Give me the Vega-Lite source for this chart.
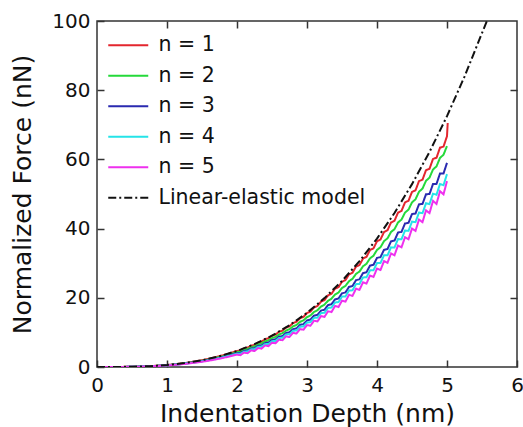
{
"$schema": "https://vega.github.io/schema/vega-lite/v6.json",
"width": 420, "height": 346,
"autosize": {"type": "none"},
"padding": {"left": 97, "top": 21, "right": 6, "bottom": 60},
"background": "white",
"config": {
 "view": {"stroke": "#333", "strokeWidth": 1.5},
 "font": "DejaVu Sans",
 "axis": {"domain": false, "grid": false, "tickColor": "#333", "tickWidth": 1.5, "tickSize": -7, "labelFontSize": 20, "labelColor": "#111", "titleFontSize": 25, "titleFontWeight": "normal", "titleColor": "#111", "labelFont": "DejaVu Sans", "titleFont": "DejaVu Sans"},
 "legend": {"orient": "none", "legendX": 21, "legendY": 14, "padding": 0, "labelFontSize": 20.5, "labelLimit": 400, "labelColor": "#111", "labelFont": "DejaVu Sans", "symbolType": "M-4,0H4", "symbolSize": 100, "symbolStrokeWidth": 2, "symbolOffset": 0, "labelOffset": 20, "rowPadding": 9.5, "title": null}
},
"data": {"values": [
{"x":0,"y":0,"s":"n = 1"},{"x":0.1,"y":0,"s":"n = 1"},{"x":0.2,"y":0.01,"s":"n = 1"},{"x":0.3,"y":0.02,"s":"n = 1"},{"x":0.4,"y":0.04,"s":"n = 1"},{"x":0.5,"y":0.07,"s":"n = 1"},{"x":0.6,"y":0.13,"s":"n = 1"},{"x":0.7,"y":0.2,"s":"n = 1"},{"x":0.8,"y":0.3,"s":"n = 1"},{"x":0.9,"y":0.42,"s":"n = 1"},{"x":1.0,"y":0.58,"s":"n = 1"},{"x":1.1,"y":0.77,"s":"n = 1"},{"x":1.2,"y":1.0,"s":"n = 1"},{"x":1.3,"y":1.27,"s":"n = 1"},{"x":1.4,"y":1.59,"s":"n = 1"},{"x":1.5,"y":1.96,"s":"n = 1"},{"x":1.6,"y":2.38,"s":"n = 1"},{"x":1.7,"y":2.85,"s":"n = 1"},{"x":1.8,"y":3.38,"s":"n = 1"},{"x":1.9,"y":3.98,"s":"n = 1"},
{"x":2.0,"y":4.64,"s":"n = 1"},{"x":2.05,"y":4.85,"s":"n = 1"},{"x":2.1,"y":5.37,"s":"n = 1"},{"x":2.15,"y":5.6,"s":"n = 1"},{"x":2.2,"y":6.17,"s":"n = 1"},{"x":2.25,"y":6.42,"s":"n = 1"},{"x":2.3,"y":7.05,"s":"n = 1"},{"x":2.35,"y":7.32,"s":"n = 1"},{"x":2.4,"y":8.01,"s":"n = 1"},{"x":2.45,"y":8.3,"s":"n = 1"},{"x":2.5,"y":9.05,"s":"n = 1"},{"x":2.55,"y":9.36,"s":"n = 1"},{"x":2.6,"y":10.18,"s":"n = 1"},{"x":2.65,"y":10.51,"s":"n = 1"},{"x":2.7,"y":11.39,"s":"n = 1"},{"x":2.75,"y":11.75,"s":"n = 1"},{"x":2.8,"y":12.7,"s":"n = 1"},{"x":2.85,"y":13.07,"s":"n = 1"},{"x":2.9,"y":14.1,"s":"n = 1"},{"x":2.95,"y":14.49,"s":"n = 1"},
{"x":3.0,"y":15.6,"s":"n = 1"},{"x":3.05,"y":16.01,"s":"n = 1"},{"x":3.1,"y":17.2,"s":"n = 1"},{"x":3.15,"y":17.63,"s":"n = 1"},{"x":3.2,"y":18.9,"s":"n = 1"},{"x":3.25,"y":19.34,"s":"n = 1"},{"x":3.3,"y":20.71,"s":"n = 1"},{"x":3.35,"y":21.17,"s":"n = 1"},{"x":3.4,"y":22.62,"s":"n = 1"},{"x":3.45,"y":23.09,"s":"n = 1"},{"x":3.5,"y":24.63,"s":"n = 1"},{"x":3.55,"y":25.12,"s":"n = 1"},{"x":3.6,"y":26.76,"s":"n = 1"},{"x":3.65,"y":27.25,"s":"n = 1"},{"x":3.7,"y":28.99,"s":"n = 1"},{"x":3.75,"y":29.5,"s":"n = 1"},{"x":3.8,"y":31.33,"s":"n = 1"},{"x":3.85,"y":31.85,"s":"n = 1"},{"x":3.9,"y":33.78,"s":"n = 1"},{"x":3.95,"y":34.3,"s":"n = 1"},
{"x":4.0,"y":36.34,"s":"n = 1"},{"x":4.05,"y":36.86,"s":"n = 1"},{"x":4.1,"y":39.0,"s":"n = 1"},{"x":4.15,"y":39.51,"s":"n = 1"},{"x":4.2,"y":41.76,"s":"n = 1"},{"x":4.25,"y":42.27,"s":"n = 1"},{"x":4.3,"y":44.62,"s":"n = 1"},{"x":4.35,"y":45.11,"s":"n = 1"},{"x":4.4,"y":47.57,"s":"n = 1"},{"x":4.45,"y":48.05,"s":"n = 1"},{"x":4.5,"y":50.61,"s":"n = 1"},{"x":4.55,"y":51.06,"s":"n = 1"},{"x":4.6,"y":53.72,"s":"n = 1"},{"x":4.65,"y":54.14,"s":"n = 1"},{"x":4.7,"y":56.89,"s":"n = 1"},{"x":4.75,"y":57.28,"s":"n = 1"},{"x":4.8,"y":60.13,"s":"n = 1"},{"x":4.85,"y":60.47,"s":"n = 1"},{"x":4.9,"y":63.4,"s":"n = 1"},{"x":4.95,"y":63.7,"s":"n = 1"},{"x":5.0,"y":66.7,"s":"n = 1"},{"x":5.01,"y":70.5,"s":"n = 1"},

{"x":0,"y":0,"s":"n = 2"},{"x":0.1,"y":0,"s":"n = 2"},{"x":0.2,"y":0,"s":"n = 2"},{"x":0.3,"y":0.01,"s":"n = 2"},{"x":0.4,"y":0.03,"s":"n = 2"},{"x":0.5,"y":0.07,"s":"n = 2"},{"x":0.6,"y":0.12,"s":"n = 2"},{"x":0.7,"y":0.18,"s":"n = 2"},{"x":0.8,"y":0.27,"s":"n = 2"},{"x":0.9,"y":0.39,"s":"n = 2"},{"x":1.0,"y":0.54,"s":"n = 2"},{"x":1.1,"y":0.71,"s":"n = 2"},{"x":1.2,"y":0.92,"s":"n = 2"},{"x":1.3,"y":1.18,"s":"n = 2"},{"x":1.4,"y":1.47,"s":"n = 2"},{"x":1.5,"y":1.81,"s":"n = 2"},{"x":1.6,"y":2.19,"s":"n = 2"},{"x":1.7,"y":2.63,"s":"n = 2"},{"x":1.8,"y":3.12,"s":"n = 2"},{"x":1.9,"y":3.67,"s":"n = 2"},
{"x":2.0,"y":4.28,"s":"n = 2"},{"x":2.05,"y":4.5,"s":"n = 2"},{"x":2.1,"y":4.95,"s":"n = 2"},{"x":2.15,"y":5.2,"s":"n = 2"},{"x":2.2,"y":5.7,"s":"n = 2"},{"x":2.25,"y":5.97,"s":"n = 2"},{"x":2.3,"y":6.51,"s":"n = 2"},{"x":2.35,"y":6.81,"s":"n = 2"},{"x":2.4,"y":7.39,"s":"n = 2"},{"x":2.45,"y":7.72,"s":"n = 2"},{"x":2.5,"y":8.35,"s":"n = 2"},{"x":2.55,"y":8.71,"s":"n = 2"},{"x":2.6,"y":9.39,"s":"n = 2"},{"x":2.65,"y":9.78,"s":"n = 2"},{"x":2.7,"y":10.52,"s":"n = 2"},{"x":2.75,"y":10.93,"s":"n = 2"},{"x":2.8,"y":11.73,"s":"n = 2"},{"x":2.85,"y":12.17,"s":"n = 2"},{"x":2.9,"y":13.03,"s":"n = 2"},{"x":2.95,"y":13.49,"s":"n = 2"},
{"x":3.0,"y":14.41,"s":"n = 2"},{"x":3.05,"y":14.91,"s":"n = 2"},{"x":3.1,"y":15.9,"s":"n = 2"},{"x":3.15,"y":16.43,"s":"n = 2"},{"x":3.2,"y":17.48,"s":"n = 2"},{"x":3.25,"y":18.03,"s":"n = 2"},{"x":3.3,"y":19.15,"s":"n = 2"},{"x":3.35,"y":19.74,"s":"n = 2"},{"x":3.4,"y":20.93,"s":"n = 2"},{"x":3.45,"y":21.55,"s":"n = 2"},{"x":3.5,"y":22.82,"s":"n = 2"},{"x":3.55,"y":23.46,"s":"n = 2"},{"x":3.6,"y":24.8,"s":"n = 2"},{"x":3.65,"y":25.48,"s":"n = 2"},{"x":3.7,"y":26.9,"s":"n = 2"},{"x":3.75,"y":27.6,"s":"n = 2"},{"x":3.8,"y":29.1,"s":"n = 2"},{"x":3.85,"y":29.83,"s":"n = 2"},{"x":3.9,"y":31.41,"s":"n = 2"},{"x":3.95,"y":32.17,"s":"n = 2"},
{"x":4.0,"y":33.84,"s":"n = 2"},{"x":4.05,"y":34.62,"s":"n = 2"},{"x":4.1,"y":36.37,"s":"n = 2"},{"x":4.15,"y":37.18,"s":"n = 2"},{"x":4.2,"y":39.01,"s":"n = 2"},{"x":4.25,"y":39.84,"s":"n = 2"},{"x":4.3,"y":41.76,"s":"n = 2"},{"x":4.35,"y":42.61,"s":"n = 2"},{"x":4.4,"y":44.62,"s":"n = 2"},{"x":4.45,"y":45.49,"s":"n = 2"},{"x":4.5,"y":47.59,"s":"n = 2"},{"x":4.55,"y":48.47,"s":"n = 2"},{"x":4.6,"y":50.65,"s":"n = 2"},{"x":4.65,"y":51.55,"s":"n = 2"},{"x":4.7,"y":53.82,"s":"n = 2"},{"x":4.75,"y":54.72,"s":"n = 2"},{"x":4.8,"y":57.08,"s":"n = 2"},{"x":4.85,"y":57.99,"s":"n = 2"},{"x":4.9,"y":60.43,"s":"n = 2"},{"x":4.95,"y":61.34,"s":"n = 2"},{"x":5.0,"y":63.87,"s":"n = 2"},

{"x":0,"y":0,"s":"n = 3"},{"x":0.1,"y":0,"s":"n = 3"},{"x":0.2,"y":0,"s":"n = 3"},{"x":0.3,"y":0.01,"s":"n = 3"},{"x":0.4,"y":0.03,"s":"n = 3"},{"x":0.5,"y":0.06,"s":"n = 3"},{"x":0.6,"y":0.11,"s":"n = 3"},{"x":0.7,"y":0.17,"s":"n = 3"},{"x":0.8,"y":0.26,"s":"n = 3"},{"x":0.9,"y":0.36,"s":"n = 3"},{"x":1.0,"y":0.5,"s":"n = 3"},{"x":1.1,"y":0.67,"s":"n = 3"},{"x":1.2,"y":0.86,"s":"n = 3"},{"x":1.3,"y":1.1,"s":"n = 3"},{"x":1.4,"y":1.37,"s":"n = 3"},{"x":1.5,"y":1.69,"s":"n = 3"},{"x":1.6,"y":2.05,"s":"n = 3"},{"x":1.7,"y":2.46,"s":"n = 3"},{"x":1.8,"y":2.92,"s":"n = 3"},{"x":1.9,"y":3.43,"s":"n = 3"},
{"x":2.0,"y":4.0,"s":"n = 3"},{"x":2.05,"y":4.1,"s":"n = 3"},{"x":2.1,"y":4.63,"s":"n = 3"},{"x":2.15,"y":4.75,"s":"n = 3"},{"x":2.2,"y":5.32,"s":"n = 3"},{"x":2.25,"y":5.45,"s":"n = 3"},{"x":2.3,"y":6.08,"s":"n = 3"},{"x":2.35,"y":6.22,"s":"n = 3"},{"x":2.4,"y":6.91,"s":"n = 3"},{"x":2.45,"y":7.06,"s":"n = 3"},{"x":2.5,"y":7.81,"s":"n = 3"},{"x":2.55,"y":7.97,"s":"n = 3"},{"x":2.6,"y":8.78,"s":"n = 3"},{"x":2.65,"y":8.96,"s":"n = 3"},{"x":2.7,"y":9.83,"s":"n = 3"},{"x":2.75,"y":10.02,"s":"n = 3"},{"x":2.8,"y":10.96,"s":"n = 3"},{"x":2.85,"y":11.16,"s":"n = 3"},{"x":2.9,"y":12.17,"s":"n = 3"},{"x":2.95,"y":12.39,"s":"n = 3"},
{"x":3.0,"y":13.46,"s":"n = 3"},{"x":3.05,"y":13.7,"s":"n = 3"},{"x":3.1,"y":14.85,"s":"n = 3"},{"x":3.15,"y":15.08,"s":"n = 3"},{"x":3.2,"y":16.32,"s":"n = 3"},{"x":3.25,"y":16.56,"s":"n = 3"},{"x":3.3,"y":17.89,"s":"n = 3"},{"x":3.35,"y":18.13,"s":"n = 3"},{"x":3.4,"y":19.54,"s":"n = 3"},{"x":3.45,"y":19.8,"s":"n = 3"},{"x":3.5,"y":21.3,"s":"n = 3"},{"x":3.55,"y":21.55,"s":"n = 3"},{"x":3.6,"y":23.15,"s":"n = 3"},{"x":3.65,"y":23.41,"s":"n = 3"},{"x":3.7,"y":25.09,"s":"n = 3"},{"x":3.75,"y":25.35,"s":"n = 3"},{"x":3.8,"y":27.14,"s":"n = 3"},{"x":3.85,"y":27.4,"s":"n = 3"},{"x":3.9,"y":29.29,"s":"n = 3"},{"x":3.95,"y":29.54,"s":"n = 3"},
{"x":4.0,"y":31.53,"s":"n = 3"},{"x":4.05,"y":31.77,"s":"n = 3"},{"x":4.1,"y":33.87,"s":"n = 3"},{"x":4.15,"y":34.1,"s":"n = 3"},{"x":4.2,"y":36.32,"s":"n = 3"},{"x":4.25,"y":36.53,"s":"n = 3"},{"x":4.3,"y":38.85,"s":"n = 3"},{"x":4.35,"y":39.06,"s":"n = 3"},{"x":4.4,"y":41.48,"s":"n = 3"},{"x":4.45,"y":41.66,"s":"n = 3"},{"x":4.5,"y":44.21,"s":"n = 3"},{"x":4.55,"y":44.36,"s":"n = 3"},{"x":4.6,"y":47.02,"s":"n = 3"},{"x":4.65,"y":47.14,"s":"n = 3"},{"x":4.7,"y":49.91,"s":"n = 3"},{"x":4.75,"y":50.0,"s":"n = 3"},{"x":4.8,"y":52.87,"s":"n = 3"},{"x":4.85,"y":52.92,"s":"n = 3"},{"x":4.9,"y":55.91,"s":"n = 3"},{"x":4.95,"y":55.91,"s":"n = 3"},{"x":5.0,"y":59.0,"s":"n = 3"},

{"x":0,"y":0,"s":"n = 4"},{"x":0.1,"y":0,"s":"n = 4"},{"x":0.2,"y":0,"s":"n = 4"},{"x":0.3,"y":0.01,"s":"n = 4"},{"x":0.4,"y":0.03,"s":"n = 4"},{"x":0.5,"y":0.06,"s":"n = 4"},{"x":0.6,"y":0.1,"s":"n = 4"},{"x":0.7,"y":0.16,"s":"n = 4"},{"x":0.8,"y":0.25,"s":"n = 4"},{"x":0.9,"y":0.35,"s":"n = 4"},{"x":1.0,"y":0.48,"s":"n = 4"},{"x":1.1,"y":0.64,"s":"n = 4"},{"x":1.2,"y":0.83,"s":"n = 4"},{"x":1.3,"y":1.05,"s":"n = 4"},{"x":1.4,"y":1.31,"s":"n = 4"},{"x":1.5,"y":1.61,"s":"n = 4"},{"x":1.6,"y":1.96,"s":"n = 4"},{"x":1.7,"y":2.35,"s":"n = 4"},{"x":1.8,"y":2.79,"s":"n = 4"},{"x":1.9,"y":3.28,"s":"n = 4"},
{"x":2.0,"y":3.82,"s":"n = 4"},{"x":2.05,"y":3.84,"s":"n = 4"},{"x":2.1,"y":4.42,"s":"n = 4"},{"x":2.15,"y":4.46,"s":"n = 4"},{"x":2.2,"y":5.09,"s":"n = 4"},{"x":2.25,"y":5.13,"s":"n = 4"},{"x":2.3,"y":5.81,"s":"n = 4"},{"x":2.35,"y":5.86,"s":"n = 4"},{"x":2.4,"y":6.6,"s":"n = 4"},{"x":2.45,"y":6.66,"s":"n = 4"},{"x":2.5,"y":7.46,"s":"n = 4"},{"x":2.55,"y":7.53,"s":"n = 4"},{"x":2.6,"y":8.39,"s":"n = 4"},{"x":2.65,"y":8.46,"s":"n = 4"},{"x":2.7,"y":9.39,"s":"n = 4"},{"x":2.75,"y":9.47,"s":"n = 4"},{"x":2.8,"y":10.47,"s":"n = 4"},{"x":2.85,"y":10.56,"s":"n = 4"},{"x":2.9,"y":11.63,"s":"n = 4"},{"x":2.95,"y":11.72,"s":"n = 4"},
{"x":3.0,"y":12.87,"s":"n = 4"},{"x":3.05,"y":12.96,"s":"n = 4"},{"x":3.1,"y":14.19,"s":"n = 4"},{"x":3.15,"y":14.28,"s":"n = 4"},{"x":3.2,"y":15.59,"s":"n = 4"},{"x":3.25,"y":15.69,"s":"n = 4"},{"x":3.3,"y":17.08,"s":"n = 4"},{"x":3.35,"y":17.17,"s":"n = 4"},{"x":3.4,"y":18.66,"s":"n = 4"},{"x":3.45,"y":18.75,"s":"n = 4"},{"x":3.5,"y":20.33,"s":"n = 4"},{"x":3.55,"y":20.41,"s":"n = 4"},{"x":3.6,"y":22.09,"s":"n = 4"},{"x":3.65,"y":22.17,"s":"n = 4"},{"x":3.7,"y":23.95,"s":"n = 4"},{"x":3.75,"y":24.01,"s":"n = 4"},{"x":3.8,"y":25.89,"s":"n = 4"},{"x":3.85,"y":25.94,"s":"n = 4"},{"x":3.9,"y":27.93,"s":"n = 4"},{"x":3.95,"y":27.96,"s":"n = 4"},
{"x":4.0,"y":30.05,"s":"n = 4"},{"x":4.05,"y":30.07,"s":"n = 4"},{"x":4.1,"y":32.27,"s":"n = 4"},{"x":4.15,"y":32.27,"s":"n = 4"},{"x":4.2,"y":34.58,"s":"n = 4"},{"x":4.25,"y":34.55,"s":"n = 4"},{"x":4.3,"y":36.97,"s":"n = 4"},{"x":4.35,"y":36.91,"s":"n = 4"},{"x":4.4,"y":39.45,"s":"n = 4"},{"x":4.45,"y":39.35,"s":"n = 4"},{"x":4.5,"y":42.01,"s":"n = 4"},{"x":4.55,"y":41.86,"s":"n = 4"},{"x":4.6,"y":44.64,"s":"n = 4"},{"x":4.65,"y":44.45,"s":"n = 4"},{"x":4.7,"y":47.33,"s":"n = 4"},{"x":4.75,"y":47.1,"s":"n = 4"},{"x":4.8,"y":50.09,"s":"n = 4"},{"x":4.85,"y":49.79,"s":"n = 4"},{"x":4.9,"y":52.9,"s":"n = 4"},{"x":4.95,"y":52.54,"s":"n = 4"},{"x":5.0,"y":55.75,"s":"n = 4"},

{"x":0,"y":0,"s":"n = 5"},{"x":0.1,"y":0,"s":"n = 5"},{"x":0.2,"y":0,"s":"n = 5"},{"x":0.3,"y":0.01,"s":"n = 5"},{"x":0.4,"y":0.03,"s":"n = 5"},{"x":0.5,"y":0.06,"s":"n = 5"},{"x":0.6,"y":0.1,"s":"n = 5"},{"x":0.7,"y":0.15,"s":"n = 5"},{"x":0.8,"y":0.23,"s":"n = 5"},{"x":0.9,"y":0.33,"s":"n = 5"},{"x":1.0,"y":0.45,"s":"n = 5"},{"x":1.1,"y":0.6,"s":"n = 5"},{"x":1.2,"y":0.78,"s":"n = 5"},{"x":1.3,"y":0.99,"s":"n = 5"},{"x":1.4,"y":1.24,"s":"n = 5"},{"x":1.5,"y":1.52,"s":"n = 5"},{"x":1.6,"y":1.84,"s":"n = 5"},{"x":1.7,"y":2.21,"s":"n = 5"},{"x":1.8,"y":2.62,"s":"n = 5"},{"x":1.9,"y":3.09,"s":"n = 5"},
{"x":2.0,"y":3.6,"s":"n = 5"},{"x":2.05,"y":3.42,"s":"n = 5"},{"x":2.1,"y":4.17,"s":"n = 5"},{"x":2.15,"y":3.99,"s":"n = 5"},{"x":2.2,"y":4.79,"s":"n = 5"},{"x":2.25,"y":4.62,"s":"n = 5"},{"x":2.3,"y":5.47,"s":"n = 5"},{"x":2.35,"y":5.31,"s":"n = 5"},{"x":2.4,"y":6.22,"s":"n = 5"},{"x":2.45,"y":6.05,"s":"n = 5"},{"x":2.5,"y":7.03,"s":"n = 5"},{"x":2.55,"y":6.86,"s":"n = 5"},{"x":2.6,"y":7.9,"s":"n = 5"},{"x":2.65,"y":7.73,"s":"n = 5"},{"x":2.7,"y":8.85,"s":"n = 5"},{"x":2.75,"y":8.67,"s":"n = 5"},{"x":2.8,"y":9.86,"s":"n = 5"},{"x":2.85,"y":9.68,"s":"n = 5"},{"x":2.9,"y":10.96,"s":"n = 5"},{"x":2.95,"y":10.77,"s":"n = 5"},
{"x":3.0,"y":12.12,"s":"n = 5"},{"x":3.05,"y":11.93,"s":"n = 5"},{"x":3.1,"y":13.37,"s":"n = 5"},{"x":3.15,"y":13.17,"s":"n = 5"},{"x":3.2,"y":14.7,"s":"n = 5"},{"x":3.25,"y":14.48,"s":"n = 5"},{"x":3.3,"y":16.11,"s":"n = 5"},{"x":3.35,"y":15.88,"s":"n = 5"},{"x":3.4,"y":17.61,"s":"n = 5"},{"x":3.45,"y":17.35,"s":"n = 5"},{"x":3.5,"y":19.19,"s":"n = 5"},{"x":3.55,"y":18.92,"s":"n = 5"},{"x":3.6,"y":20.86,"s":"n = 5"},{"x":3.65,"y":20.56,"s":"n = 5"},{"x":3.7,"y":22.63,"s":"n = 5"},{"x":3.75,"y":22.3,"s":"n = 5"},{"x":3.8,"y":24.48,"s":"n = 5"},{"x":3.85,"y":24.12,"s":"n = 5"},{"x":3.9,"y":26.42,"s":"n = 5"},{"x":3.95,"y":26.03,"s":"n = 5"},
{"x":4.0,"y":28.46,"s":"n = 5"},{"x":4.05,"y":28.03,"s":"n = 5"},{"x":4.1,"y":30.59,"s":"n = 5"},{"x":4.15,"y":30.12,"s":"n = 5"},{"x":4.2,"y":32.81,"s":"n = 5"},{"x":4.25,"y":32.3,"s":"n = 5"},{"x":4.3,"y":35.13,"s":"n = 5"},{"x":4.35,"y":34.57,"s":"n = 5"},{"x":4.4,"y":37.53,"s":"n = 5"},{"x":4.45,"y":36.92,"s":"n = 5"},{"x":4.5,"y":40.03,"s":"n = 5"},{"x":4.55,"y":39.35,"s":"n = 5"},{"x":4.6,"y":42.61,"s":"n = 5"},{"x":4.65,"y":41.87,"s":"n = 5"},{"x":4.7,"y":45.27,"s":"n = 5"},{"x":4.75,"y":44.47,"s":"n = 5"},{"x":4.8,"y":48.01,"s":"n = 5"},{"x":4.85,"y":47.14,"s":"n = 5"},{"x":4.9,"y":50.83,"s":"n = 5"},{"x":4.95,"y":49.88,"s":"n = 5"},{"x":5.0,"y":53.72,"s":"n = 5"},

{"x":0,"y":0,"s":"Linear-elastic model"},{"x":0.25,"y":0.01,"s":"Linear-elastic model"},{"x":0.5,"y":0.07,"s":"Linear-elastic model"},{"x":0.75,"y":0.24,"s":"Linear-elastic model"},{"x":1.0,"y":0.58,"s":"Linear-elastic model"},{"x":1.25,"y":1.13,"s":"Linear-elastic model"},{"x":1.5,"y":1.96,"s":"Linear-elastic model"},{"x":1.75,"y":3.11,"s":"Linear-elastic model"},{"x":2.0,"y":4.64,"s":"Linear-elastic model"},{"x":2.25,"y":6.61,"s":"Linear-elastic model"},{"x":2.5,"y":9.06,"s":"Linear-elastic model"},{"x":2.75,"y":12.06,"s":"Linear-elastic model"},{"x":3.0,"y":15.66,"s":"Linear-elastic model"},{"x":3.25,"y":19.91,"s":"Linear-elastic model"},{"x":3.5,"y":24.87,"s":"Linear-elastic model"},{"x":3.75,"y":30.59,"s":"Linear-elastic model"},{"x":4.0,"y":37.12,"s":"Linear-elastic model"},{"x":4.25,"y":44.52,"s":"Linear-elastic model"},{"x":4.5,"y":52.85,"s":"Linear-elastic model"},{"x":4.75,"y":62.16,"s":"Linear-elastic model"},{"x":5.0,"y":72.5,"s":"Linear-elastic model"},{"x":5.25,"y":83.93,"s":"Linear-elastic model"},{"x":5.5,"y":96.5,"s":"Linear-elastic model"},{"x":5.57,"y":100,"s":"Linear-elastic model"}
]},
"layer": [
 {"mark": {"type": "line", "strokeWidth": 2, "clip": true},
  "encoding": {
   "x": {"field": "x", "type": "quantitative", "scale": {"domain": [0, 6], "nice": false}, "axis": {"orient": "bottom", "values": [0,1,2,3,4,5,6], "title": "Indentation Depth (nm)", "labelPadding": 15, "titlePadding": 6, "labelFlush": false}},
   "y": {"field": "y", "type": "quantitative", "scale": {"domain": [0, 100], "nice": false}, "axis": {"orient": "left", "values": [0,20,40,60,80,100], "title": "Normalized Force (nN)", "labelPadding": 14, "titlePadding": 16}},
   "color": {"field": "s", "type": "nominal", "scale": {"domain": ["n = 1","n = 2","n = 3","n = 4","n = 5","Linear-elastic model"], "range": ["#e3262e","#25d93a","#2a2ab0","#25e3e8","#ee30ee","#111111"]}, "legend": {"title": null}},
   "strokeDash": {"field": "s", "type": "nominal", "scale": {"domain": ["n = 1","n = 2","n = 3","n = 4","n = 5","Linear-elastic model"], "range": [[1,0],[1,0],[1,0],[1,0],[1,0],[8,3,2,3]]}, "legend": {"title": null}}
  }},
 {"mark": {"type": "point", "opacity": 0},
  "encoding": {
   "x": {"field": "x", "type": "quantitative", "axis": {"orient": "top", "values": [1,2,3,4,5], "labels": false, "title": null}},
   "y": {"field": "y", "type": "quantitative", "axis": {"orient": "right", "values": [20,40,60,80], "labels": false, "title": null}}
  }}
],
"resolve": {"axis": {"x": "independent", "y": "independent"}}
}
